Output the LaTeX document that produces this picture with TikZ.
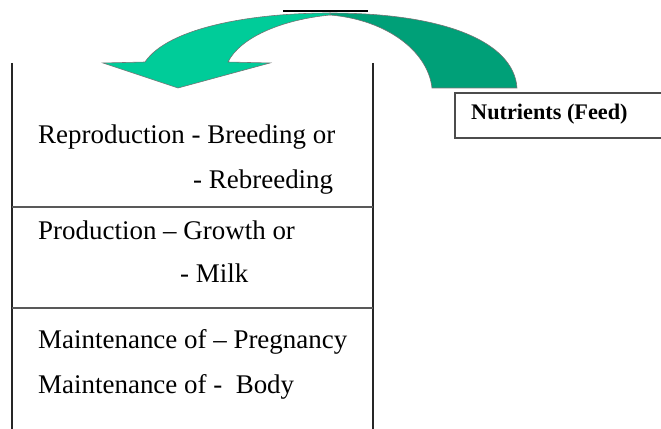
\documentclass[tikz,border=0pt]{standalone}
\usepackage{fontspec}
\setmainfont{Liberation Serif}
\definecolor{arrowlight}{RGB}{0,204,153}
\definecolor{arrowdark}{RGB}{0,160,120}
\tikzset{
    rowtext/.style={anchor=west, inner sep=0pt, font=\fontsize{23}{27}\selectfont},
    boxline/.style={line width=1.6pt, black!85},
    arrowpart/.style={draw=black!55, line width=0.5pt}
}
\begin{document}
\begin{tikzpicture}[x=0.03cm, y=-0.03cm]

    % Picture size in pixels
    \useasboundingbox (0,0) rectangle (661,429);

    % Define the column edges and the dividers
    \pgfmathsetmacro{\xL}{12}
    \pgfmathsetmacro{\xR}{373}
    \pgfmathsetmacro{\yTop}{63}
    \pgfmathsetmacro{\yBot}{429}

    % Draw the column
    \draw[boxline] (\xL,\yTop) -- (\xL,\yBot);
    \draw[boxline] (\xR,\yTop) -- (\xR,\yBot);
    \foreach \y in {207, 308} {
        \draw[line width=1.2pt, black!65] (\xL,\y) -- (\xR,\y);
    }

    % Add the rows of text
    \node[rowtext] (repro) at (38,137) {Reproduction - Breeding or};
    \node[rowtext] (rebreed) at (193,182) {- Rebreeding};
    \node[rowtext] (prod) at (38,230) {Production -- Growth or};
    \node[rowtext] (milk) at (180,273) {- Milk};
    \node[rowtext] (preg) at (38,342) {Maintenance of -- Pregnancy};
    \node[rowtext] (body) at (38,387) {Maintenance of -\ \ Body};

    % Draw the nutrients box (its right side runs off the page)
    \draw[line width=1.2pt, black!70] (661,93) -- (455,93) -- (455,138) -- (661,138);
    \node[anchor=west, inner sep=0pt, font=\fontsize{19}{22}\selectfont\bfseries]
        (feed) at (471,114) {Nutrients (Feed)};

    % Small black bar above the arrow
    \draw[line width=1.8pt] (283,11) -- (368,11);

    % Right half of the curved arrow (tail)
    \filldraw[arrowpart, fill=arrowdark]
        (330,13) .. controls (445,13) and (514,42) .. (517,88)
        -- (432,88) .. controls (428,52) and (388,20) .. (330,15) -- cycle;

    % Left half of the curved arrow (head)
    \filldraw[arrowpart, fill=arrowlight]
        (145,62) .. controls (168,28) and (250,13) .. (330,13)
        -- (330,15) .. controls (280,20) and (240,38) .. (228,62)
        -- (270,63) -- (178,88) -- (103,63) -- cycle;

\end{tikzpicture}
\end{document}
